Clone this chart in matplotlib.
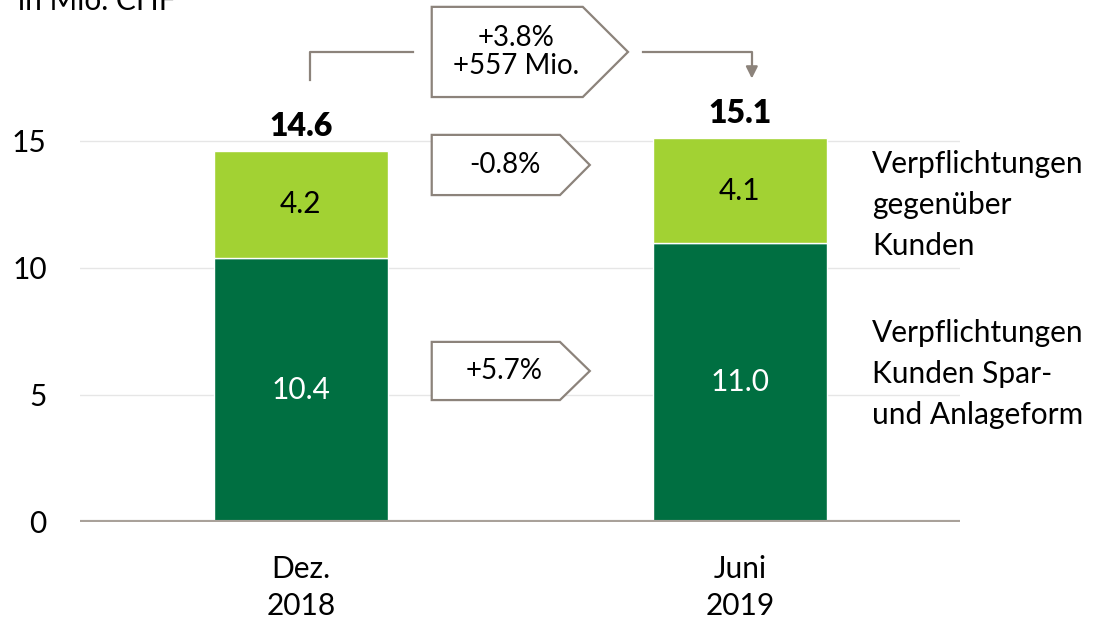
import matplotlib.pyplot as plt
from matplotlib.patches import Polygon

plt.rcParams['font.family'] = ['Lato', 'DejaVu Sans']

periods = ['Dez.\n2018', 'Juni\n2019']
spar_anlage = [10.4, 11.0]
gegenueber = [4.2, 4.1]
totals = [14.6, 15.1]
yticks = [0, 5, 10, 15]

dark = '#006f41'
light = '#a2d233'
grey = '#8c837b'
fs = 21.5

fig = plt.figure(figsize=(10.99, 6.22), dpi=100)
ax = fig.add_axes([0.0728, 0.1608, 0.8007, 0.8392])

x = range(len(periods))
ax.bar(x, spar_anlage, width=0.396, color=dark, edgecolor='white', linewidth=1, zorder=3)
ax.bar(x, gegenueber, width=0.396, bottom=spar_anlage, color=light, edgecolor='white',
       linewidth=1, zorder=3)

for i in x:
    ax.text(i, spar_anlage[i] / 2, f'{spar_anlage[i]:.1f}', ha='center', va='center',
            color='white', fontsize=fs, zorder=4)
    ax.text(i, spar_anlage[i] + gegenueber[i] / 2, f'{gegenueber[i]:.1f}', ha='center',
            va='center', color='black', fontsize=fs, zorder=4)
    ax.text(i, totals[i] + 0.6, f'{totals[i]:.1f}', ha='center', va='baseline',
            fontsize=23, fontweight='heavy', zorder=4)

ax.set_xlim(-0.503, 1.501)
ax.set_ylim(0, 20.55)
ax.set_xticks(list(x))
ax.set_xticklabels(periods, fontsize=fs, linespacing=1.38)
ax.set_yticks(yticks)
ax.set_yticklabels([str(t) for t in yticks], fontsize=fs)
ax.tick_params(length=0)
ax.tick_params(axis='x', pad=24)
ax.tick_params(axis='y', pad=24)
for s in ax.spines.values():
    s.set_visible(False)
for t in yticks[1:]:
    ax.axhline(t, color='#e6e6e6', linewidth=1, zorder=1)
ax.axhline(0, color='#a9a19a', linewidth=3, zorder=5)


def arrow_box(x0, xb, xt, y0, y1, label):
    ym = (y0 + y1) / 2
    poly = Polygon([(x0, y0), (xb, y0), (xt, ym), (xb, y1), (x0, y1)], closed=True,
                   facecolor='white', edgecolor=grey, linewidth=1.6, zorder=6,
                   clip_on=False)
    ax.add_patch(poly)
    ax.text((x0 + xb) / 2 + 0.02, ym, label, ha='center', va='center', fontsize=20,
            linespacing=1.1, zorder=7, clip_on=False)


arrow_box(0.298, 0.642, 0.745, 16.73, 20.28, '+3.8%\n+557 Mio.')
arrow_box(0.298, 0.59, 0.658, 12.87, 15.24, '-0.8%')
arrow_box(0.298, 0.59, 0.658, 4.8, 7.09, '+5.7%')

ax.plot([0.0205, 0.0205, 0.255], [17.4, 18.5, 18.5], color=grey, linewidth=1.6,
        clip_on=False, zorder=6)
ax.plot([0.779, 1.027, 1.027], [18.5, 18.5, 17.8], color=grey, linewidth=1.6,
        clip_on=False, zorder=6)
ax.annotate('', xy=(1.027, 17.35), xytext=(1.027, 17.9),
            arrowprops=dict(arrowstyle='-|>,head_width=0.35,head_length=0.7',
                            color=grey, lw=1.6), zorder=6)

fig.text(872 / 1099, 1 - 205 / 622, 'Verpflichtungen\ngegenüber\nKunden', ha='left',
         va='center', fontsize=fs, linespacing=1.55)
fig.text(872 / 1099, 1 - 374 / 622, 'Verpflichtungen\nKunden Spar-\nund Anlageform',
         ha='left', va='center', fontsize=fs, linespacing=1.55)
fig.text(18 / 1099, 1 - 10 / 622, 'in Mio. CHF', ha='left', va='baseline', fontsize=fs)

fig.savefig('out.png', dpi=100)
